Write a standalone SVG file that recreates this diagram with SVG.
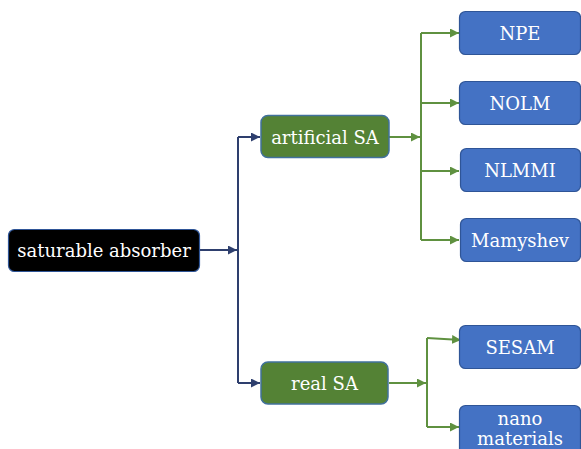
<svg xmlns="http://www.w3.org/2000/svg" width="581" height="449" viewBox="0 0 581 449">
<defs>
<style>
text{font-family:'DejaVu Serif',serif;font-size:18px;fill:#ffffff;text-anchor:middle}
.blue{fill:#4472c4;stroke:#2f5597;stroke-width:1.2}
.green{fill:#548235;stroke:#41719c;stroke-width:1.5}
.navy{fill:none;stroke:#2e3f6e;stroke-width:2}
.gl{fill:none;stroke:#5f9140;stroke-width:2}
</style>
<marker id="an" viewBox="0 0 10 10" refX="10" refY="5" markerWidth="4.5" markerHeight="4.5" orient="auto" markerUnits="strokeWidth"><path d="M0,0L10,5L0,10z" fill="#2e3f6e"/></marker>
<marker id="ag" viewBox="0 0 10 10" refX="10" refY="5" markerWidth="4.5" markerHeight="4.5" orient="auto" markerUnits="strokeWidth"><path d="M0,0L10,5L0,10z" fill="#5f9140"/></marker>
</defs>
<rect width="581" height="449" fill="#ffffff"/>
<g id="connectors">
<path class="navy" d="M200,250H237" marker-end="url(#an)"/>
<path class="navy" d="M238,137V383"/>
<path class="navy" d="M238,137H260" marker-end="url(#an)"/>
<path class="navy" d="M238,383H260" marker-end="url(#an)"/>
<path class="gl" d="M389,137H420" marker-end="url(#ag)"/>
<path class="gl" d="M421,33V240"/>
<path class="gl" d="M421,33H459" marker-end="url(#ag)"/>
<path class="gl" d="M421,103H459" marker-end="url(#ag)"/>
<path class="gl" d="M421,171H459" marker-end="url(#ag)"/>
<path class="gl" d="M421,240H459" marker-end="url(#ag)"/>
<path class="gl" d="M389,383H426" marker-end="url(#ag)"/>
<path class="gl" d="M427,338V427"/>
<path class="gl" d="M427,338L461,340" marker-end="url(#ag)"/>
<path class="gl" d="M427,427H459" marker-end="url(#ag)"/>
</g>
<g id="saturable-absorber"><rect x="8.5" y="229.5" width="191" height="42" rx="6" fill="#000000" stroke="#2f5597" stroke-width="1.2"/><text x="104" y="257">saturable absorber</text></g>
<g id="artificial-sa"><rect class="green" x="261" y="115.5" width="128" height="42" rx="7"/><text x="325" y="143.5">artificial SA</text></g>
<g id="real-sa"><rect class="green" x="261" y="362" width="127" height="42" rx="7"/><text x="324.5" y="390">real SA</text></g>
<g id="npe"><rect class="blue" x="459.5" y="11.5" width="121" height="43" rx="6"/><text x="520" y="40">NPE</text></g>
<g id="nolm"><rect class="blue" x="459.5" y="81.5" width="121" height="43" rx="6"/><text x="520" y="110">NOLM</text></g>
<g id="nlmmi"><rect class="blue" x="460.5" y="148.5" width="120" height="43" rx="6"/><text x="520" y="177">NLMMI</text></g>
<g id="mamyshev"><rect class="blue" x="460.5" y="218.5" width="120" height="43" rx="6"/><text x="520" y="247">Mamyshev</text></g>
<g id="sesam"><rect class="blue" x="459.5" y="325.5" width="121" height="43" rx="6"/><text x="520" y="354">SESAM</text></g>
<g id="nano-materials"><rect class="blue" x="459.5" y="405.5" width="121" height="50" rx="6"/><text x="520" y="425">nano</text><text x="520" y="445">materials</text></g>
</svg>
